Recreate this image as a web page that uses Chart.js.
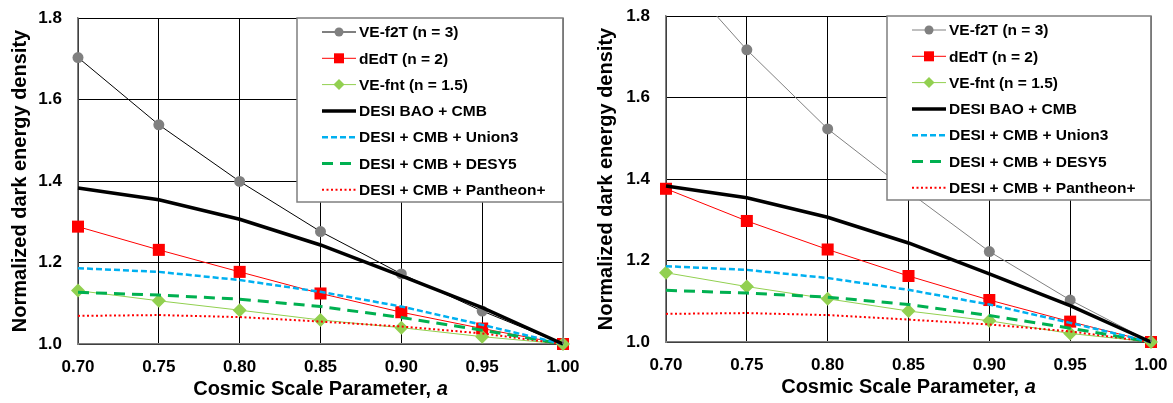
<!DOCTYPE html>
<html>
<head>
<meta charset="utf-8">
<script src="https://cdn.jsdelivr.net/npm/chart.js@4/dist/chart.umd.min.js"></script>
<style>
  html, body { margin: 0; padding: 0; background: #fff; }
  #wrap { position: relative; width: 1173px; height: 403px; }
  .box { position: absolute; top: 0; height: 403px; }
</style>
</head>
<body>
<div id="wrap">
  <div class="box" style="left:0;width:586px"><canvas id="leftChart" width="586" height="403"></canvas></div>
  <div class="box" style="left:586px;width:587px"><canvas id="rightChart" width="587" height="403"></canvas></div>
</div>
<script>
// values
const aValues = [0.70, 0.75, 0.80, 0.85, 0.90, 0.95, 1.00];
const xTicks = [0.70, 0.75, 0.80, 0.85, 0.90, 0.95, 1.00];
const yTicks = [1.0, 1.2, 1.4, 1.6, 1.8];

// left panel models
const f2tLeft  = [1.703, 1.538, 1.399, 1.276, 1.172, 1.081, 1.0];
const dedtLeft = [1.288, 1.231, 1.177, 1.124, 1.078, 1.038, 1.0];
const fntLeft  = [1.131, 1.106, 1.083, 1.059, 1.040, 1.018, 1.0];
// right panel models
const f2tRight  = [1.94, 1.717, 1.523, 1.369, 1.222, 1.103, 1.0];
const dedtRight = [1.376, 1.297, 1.227, 1.162, 1.103, 1.050, 1.0];
const fntRight  = [1.170, 1.136, 1.106, 1.076, 1.052, 1.021, 1.0];
// DESI fits (same on both panels)
const desiBao  = [1.383, 1.354, 1.306, 1.243, 1.167, 1.089, 1.0];
const union3   = [1.186, 1.177, 1.157, 1.128, 1.092, 1.047, 1.0];
const desy5    = [1.127, 1.120, 1.110, 1.092, 1.065, 1.034, 1.0];
const pantheon = [1.069, 1.071, 1.066, 1.055, 1.043, 1.026, 1.0];

const FONT = '"Liberation Sans", Arial, sans-serif';
const CLIP = { left: 12, right: 12, top: 0, bottom: 12 };

function pts(vals) {
  return aValues.map((a, i) => ({ x: a, y: vals[i] }));
}

function datasets(f2t, dedt, fnt, f2tLine) {
  return [
    { label: 'VE-f2T (n = 3)', data: pts(f2t), borderColor: f2tLine, borderWidth: 1,
      pointStyle: 'circle', pointRadius: 5.5, pointBackgroundColor: '#808080', pointBorderWidth: 0,
      legendMarker: { style: 'circle', size: 4.5, color: '#808080' }, order: 6, clip: CLIP },
    { label: 'dEdT (n = 2)', data: pts(dedt), borderColor: '#ff0000', borderWidth: 1,
      pointStyle: 'rect', pointRadius: 8.5, pointBackgroundColor: '#ff0000', pointBorderWidth: 0,
      legendMarker: { style: 'rect', size: 5, color: '#ff0000' }, order: 5, clip: CLIP },
    { label: 'VE-fnt (n = 1.5)', data: pts(fnt), borderColor: '#92d050', borderWidth: 1,
      pointStyle: 'rectRot', pointRadius: 7, pointBackgroundColor: '#92d050', pointBorderWidth: 0,
      legendMarker: { style: 'rectRot', size: 5.5, color: '#92d050' }, order: 4, clip: CLIP },
    { label: 'DESI BAO + CMB', data: pts(desiBao), borderColor: '#000000', borderWidth: 3.5,
      pointRadius: 0, order: 0, clip: CLIP },
    { label: 'DESI + CMB + Union3', data: pts(union3), borderColor: '#00b0f0', borderWidth: 2.5,
      borderDash: [6, 3], pointRadius: 0, order: 1, clip: CLIP },
    { label: 'DESI + CMB + DESY5', data: pts(desy5), borderColor: '#00b050', borderWidth: 3,
      borderDash: [11, 7], pointRadius: 0, order: 2, clip: CLIP },
    { label: 'DESI + CMB + Pantheon+', data: pts(pantheon), borderColor: '#ff0000', borderWidth: 2,
      borderDash: [2, 2.5], pointRadius: 0, order: 3, clip: CLIP }
  ];
}

// legend box inside the plot, top right
const boxLegend = {
  id: 'boxLegend',
  afterDatasetsDraw(chart, args, opts) {
    const ctx = chart.ctx;
    const area = chart.chartArea;
    const w = opts.width, h = 184;
    const left = area.right - w, top = area.top;
    ctx.save();
    ctx.fillStyle = '#fff';
    ctx.fillRect(left, top, w, h);
    ctx.strokeStyle = '#7f7f7f';
    ctx.lineWidth = 1.5;
    ctx.strokeRect(left, top, w, h);
    ctx.font = 'bold 15.5px ' + FONT;
    ctx.textBaseline = 'middle';
    ctx.fillStyle = '#000';
    chart.data.datasets.forEach((ds, i) => {
      const y = top + 14 + i * 26.3;
      const x0 = left + 25, x1 = left + 59;
      ctx.save();
      ctx.strokeStyle = ds.borderColor;
      ctx.lineWidth = ds.borderWidth;
      ctx.setLineDash(ds.borderDash || []);
      ctx.beginPath();
      ctx.moveTo(x0, y);
      ctx.lineTo(x1, y);
      ctx.stroke();
      ctx.restore();
      const m = ds.legendMarker;
      if (m) {
        const cx = (x0 + x1) / 2;
        ctx.fillStyle = m.color;
        ctx.beginPath();
        if (m.style === 'circle') ctx.arc(cx, y, m.size, 0, Math.PI * 2);
        else if (m.style === 'rect') ctx.rect(cx - m.size, y - m.size, m.size * 2, m.size * 2);
        else {
          ctx.moveTo(cx, y - m.size); ctx.lineTo(cx + m.size, y);
          ctx.lineTo(cx, y + m.size); ctx.lineTo(cx - m.size, y); ctx.closePath();
        }
        ctx.fill();
        ctx.fillStyle = '#000';
      }
      ctx.fillText(ds.label, left + 62, y + 1);
    });
    ctx.restore();
  }
};

// x title with italic "a", plus grey right frame
const extras = {
  id: 'extras',
  afterDraw(chart) {
    const ctx = chart.ctx;
    const area = chart.chartArea;
    ctx.save();
    ctx.strokeStyle = '#808080';
    ctx.lineWidth = 1.5;
    ctx.beginPath();
    ctx.moveTo(area.right, area.top);
    ctx.lineTo(area.right, area.bottom);
    ctx.stroke();
    const t1 = 'Cosmic Scale Parameter, ';
    const t2 = 'a';
    ctx.fillStyle = '#000';
    ctx.textBaseline = 'middle';
    ctx.font = 'bold 20px ' + FONT;
    const w1 = ctx.measureText(t1).width;
    ctx.font = 'italic bold 20px ' + FONT;
    const w2 = ctx.measureText(t2).width;
    const x = (area.left + area.right) / 2 - (w1 + w2) / 2;
    const y = area.bottom + 45;
    ctx.font = 'bold 20px ' + FONT;
    ctx.fillText(t1, x, y);
    ctx.font = 'italic bold 20px ' + FONT;
    ctx.fillText(t2, x + w1, y);
    ctx.restore();
  }
};

function makeChart(id, sets, cfg) {
  return new Chart(document.getElementById(id), {
    type: 'line',
    data: { datasets: sets },
    plugins: [boxLegend, extras],
    options: {
      responsive: false,
      animation: false,
      layout: { padding: { top: cfg.top, right: cfg.right, left: 0, bottom: 0 } },
      plugins: {
        legend: { display: false },
        tooltip: { enabled: false },
        boxLegend: { width: cfg.legendW }
      },
      scales: {
        x: {
          type: 'linear', min: 0.7, max: 1.0,
          afterBuildTicks: s => { s.ticks = xTicks.map(v => ({ value: v })); },
          afterFit: s => { s.height = cfg.xh; },
          grid: { color: '#000', lineWidth: 1, drawTicks: true, tickLength: 10, tickColor: 'rgba(0,0,0,0)' },
          border: { color: '#808080', width: 1.5 },
          ticks: { color: '#000', padding: 3, font: { family: FONT, size: 17, weight: 'bold' },
            callback: v => Number(v).toFixed(2) }
        },
        y: {
          min: 1.0, max: 1.8,
          afterBuildTicks: s => { s.ticks = yTicks.map(v => ({ value: v })); },
          afterFit: s => { s.width = cfg.yw; },
          grid: { color: '#000', lineWidth: 1, drawTicks: true, tickLength: 13, tickColor: 'rgba(0,0,0,0)' },
          border: { color: '#808080', width: 1.5 },
          ticks: { color: '#000', padding: 3, font: { family: FONT, size: 17, weight: 'bold' },
            callback: v => Number(v).toFixed(1) },
          title: { display: true, text: 'Normalized dark energy density', color: '#000',
            padding: { top: 8, bottom: 0 }, font: { family: FONT, size: 20, weight: 'bold' } }
        }
      }
    }
  });
}

makeChart('leftChart', datasets(f2tLeft, dedtLeft, fntLeft, '#000000'),
  { top: 18, right: 23, xh: 59, yw: 78, legendW: 266 });
makeChart('rightChart', datasets(f2tRight, dedtRight, fntRight, '#808080'),
  { top: 16, right: 22, xh: 61, yw: 80, legendW: 264 });
</script>
</body>
</html>
